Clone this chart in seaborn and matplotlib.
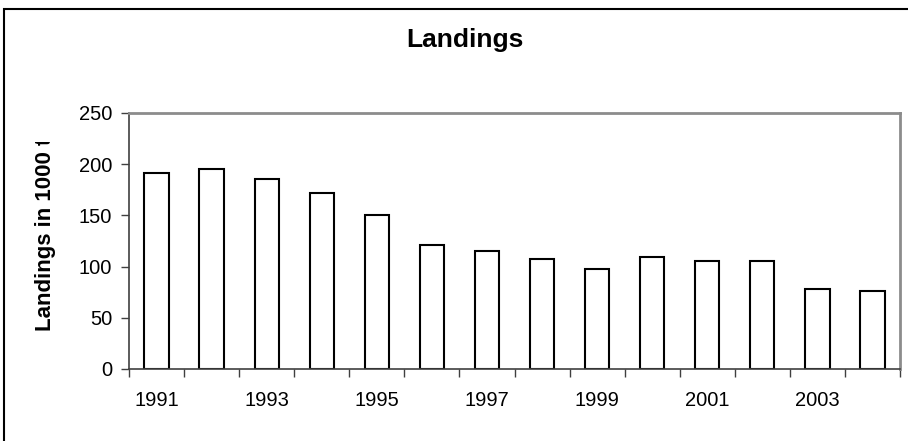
import numpy as np
import pandas as pd
import matplotlib
matplotlib.use("Agg")
import matplotlib.pyplot as plt
import seaborn as sns
from matplotlib.patches import Rectangle
from matplotlib.transforms import Bbox, TransformedBbox

years = ["1991", "1992", "1993", "1994", "1995", "1996", "1997",
         "1998", "1999", "2000", "2001", "2002", "2003", "2004"]
landings = [191, 195.5, 185.5, 172, 150.5, 121, 115.5,
            107.5, 97.5, 109, 105.5, 105.5, 78, 76.5]
yticks = [0, 50, 100, 150, 200, 250]

df = pd.DataFrame({"year": years, "landings": landings})

sns.set_theme(style="white")
plt.rcParams["font.family"] = ["Liberation Sans", "DejaVu Sans"]
plt.rcParams["text.color"] = "black"
plt.rcParams["xtick.labelcolor"] = "black"
plt.rcParams["ytick.labelcolor"] = "black"

fig = plt.figure(figsize=(9.08, 4.41), dpi=100)
ax = fig.add_axes([129 / 908, 1 - 369 / 441, (900 - 129) / 908, (369 - 113) / 441])

sns.barplot(data=df, x="year", y="landings", color="white", edgecolor="black",
            linewidth=1.5, width=0.44, saturation=1, ax=ax)

ax.set_xlim(-0.5, len(years) - 0.5)
ax.set_ylim(0, 250)
ax.set_yticks(yticks)
ax.set_yticklabels([str(v) for v in yticks], fontsize=14.5)

# ticks between categories, labels on every other year
ax.set_xticks(np.arange(-0.5, len(years), 1.0))
ax.set_xticklabels([])
ax.set_xticks(np.arange(0, len(years), 2), minor=True)
ax.set_xticklabels(years[::2], minor=True, fontsize=14.5)
ax.tick_params(axis="x", which="major", direction="out", length=6, width=1, color="#404040", bottom=True)
ax.tick_params(axis="x", which="minor", length=0, pad=16)
ax.tick_params(axis="y", direction="out", length=6, width=1, color="#404040", left=True, pad=6)

for side in ["left", "bottom"]:
    ax.spines[side].set_color("#404040")
    ax.spines[side].set_linewidth(1.2)
for side in ["top", "right"]:
    ax.spines[side].set_color("#8c8c8c")
    ax.spines[side].set_linewidth(2)

ax.set_xlabel("")
ax.set_ylabel("")

fig.text(465 / 908, 1 - 40 / 441, "Landings", ha="center", va="center",
         fontsize=19, fontweight="bold")

# y label, clipped at the top like the original
lab = fig.text(46 / 908, 1 - 331 / 441, "Landings in 1000 t", rotation=90,
               ha="center", va="bottom", fontsize=16, fontweight="bold")
lab.set_clip_box(TransformedBbox(Bbox([[0, 0], [1, 1 - 142 / 441]]), fig.transFigure))
lab.set_clip_on(True)

# outer chart border
fig.add_artist(Rectangle((4 / 908, -0.05), 1.2, 1 - 9 / 441 + 0.05,
                         transform=fig.transFigure, fill=False,
                         edgecolor="black", linewidth=1.5))

fig.savefig("out.png", dpi=100)
